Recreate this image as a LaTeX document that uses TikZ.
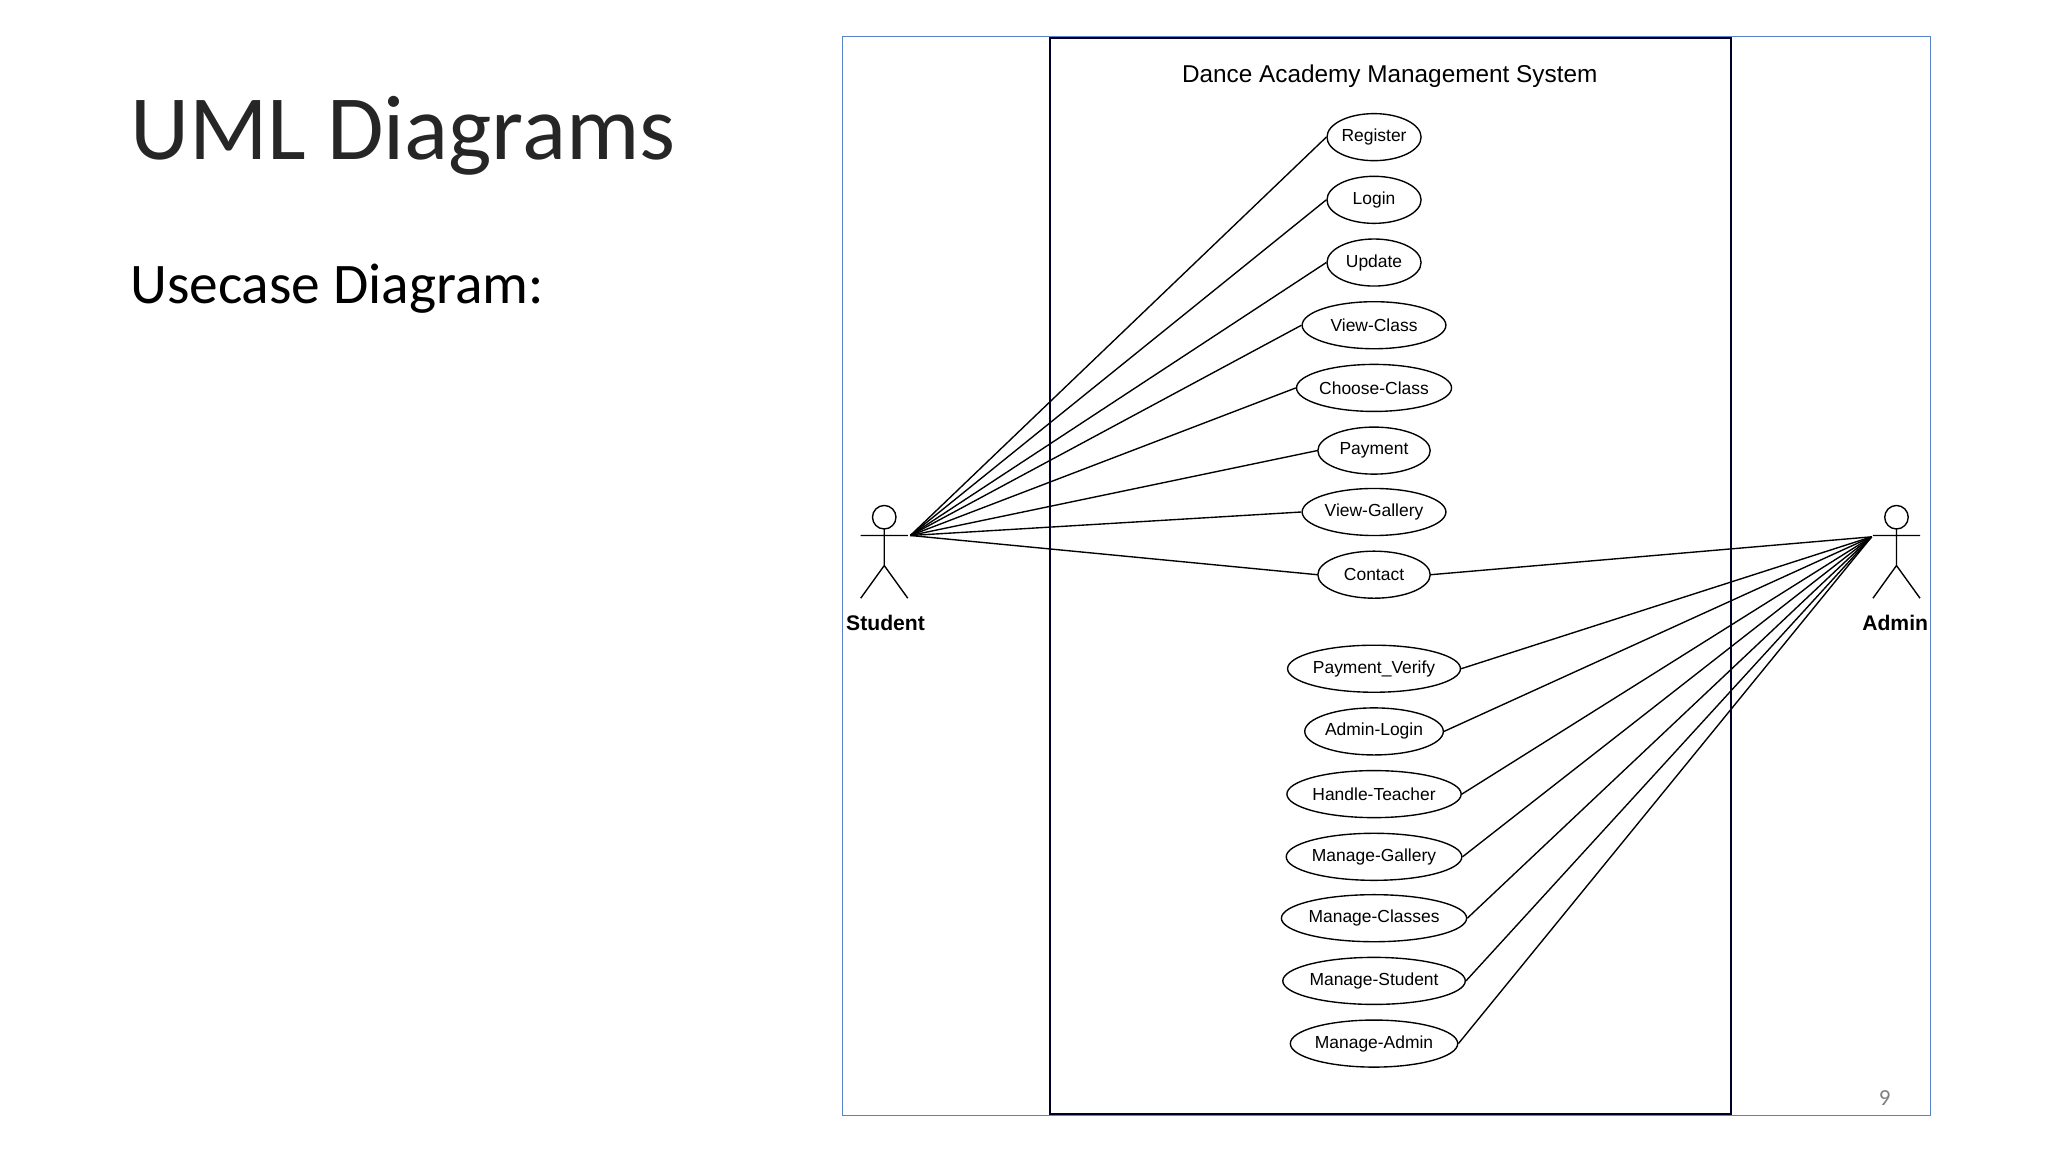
\documentclass[tikz,border=0pt]{standalone}
\usepackage{fontspec}
\setmainfont{Liberation Sans}
\newfontfamily\calfont{Carlito}
\usetikzlibrary{shapes.geometric}
\definecolor{frameblue}{RGB}{90,130,200}
\begin{document}
\begin{tikzpicture}[x=0.01cm,y=-0.01cm,
  uc/.style={ellipse,draw,line width=0.3pt,inner sep=0pt,minimum height=0.36cm,font=\fontsize{3.8}{4.5}\selectfont},
  ln/.style={line width=0.3pt}]
\useasboundingbox (0,0) rectangle (1568,882);
\fill[white] (0,0) rectangle (1568,882);
\node[anchor=west,inner sep=0pt,font=\calfont\fontsize{20}{24}\selectfont,text=black!85] (t1) at (99,104) {UML Diagrams};
\node[anchor=west,inner sep=0pt,font=\calfont\fontsize{12.5}{15}\selectfont] (t2) at (99,221) {Usecase Diagram:};
\draw[frameblue,line width=0.35pt] (645,28) rectangle (1478,854);
\draw[line width=0.45pt,black!85!blue] (804,29) rectangle (1325,853);
\node[font=\fontsize{5.3}{6}\selectfont] (sys) at (1064,58) {Dance Academy Management System};
\node[font=\calfont\fontsize{5}{6}\selectfont,text=gray] (pg) at (1443,841) {9};
% actors
\foreach \ax/\nm in {677/S,1452/A}{
  \draw[ln] (\ax,396) circle (9);
  \draw[ln] (\ax,405) -- (\ax,433) (\ax-18,410) -- (\ax+18,410)
     (\ax-18,458) -- (\ax,433) -- (\ax+18,458);
}
\node[font=\bfseries\fontsize{4.6}{6}\selectfont] (sl) at (678,477) {Student};
\node[font=\bfseries\fontsize{4.6}{6}\selectfont] (al) at (1451,477) {Admin};
\coordinate (st) at (697,410);
\coordinate (ad) at (1433,411);
\node[uc,minimum width=0.72cm] (u1) at (1052,105) {Register};
\node[uc,minimum width=0.72cm] (u2) at (1052,153) {Login};
\node[uc,minimum width=0.72cm] (u3) at (1052,201) {Update};
\node[uc,minimum width=1.1cm] (u4) at (1052,249) {View-Class};
\node[uc,minimum width=1.1cm] (u5) at (1052,297) {Choose-Class};
\node[uc,minimum width=0.86cm] (u6) at (1052,345) {Payment};
\node[uc,minimum width=1.1cm] (u7) at (1052,392) {View-Gallery};
\node[uc,minimum width=0.86cm] (u8) at (1052,440) {Contact};
\node[uc,minimum width=1.22cm] (a1) at (1052,512) {Payment\_Verify};
\node[uc,minimum width=0.98cm] (a2) at (1052,560) {Admin-Login};
\node[uc,minimum width=1.22cm] (a3) at (1052,608) {Handle-Teacher};
\node[uc,minimum width=1.22cm] (a4) at (1052,656) {Manage-Gallery};
\node[uc,minimum width=1.32cm] (a5) at (1052,703) {Manage-Classes};
\node[uc,minimum width=1.26cm] (a6) at (1052,751) {Manage-Student};
\node[uc,minimum width=1.26cm] (a7) at (1052,799) {Manage-Admin};
\foreach \u in {u1,u2,u3,u4,u5,u6,u7,u8} \draw[ln] (st) -- (\u.west);
\foreach \u in {u8,a1,a2,a3,a4,a5,a6,a7} \draw[ln] (ad) -- (\u.east);
\end{tikzpicture}
\end{document}
